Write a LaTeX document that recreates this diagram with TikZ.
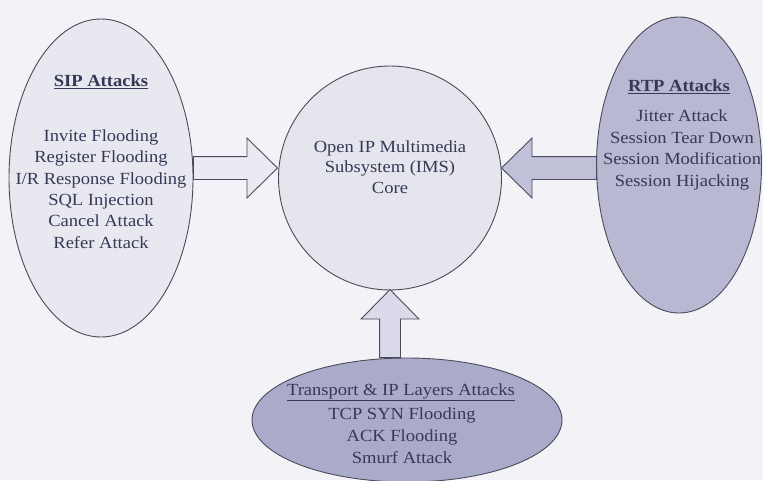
\documentclass[tikz,border=0pt]{standalone}
\usepackage{fontspec}
\setmainfont{Liberation Serif}[FakeStretch=1.09]
\usetikzlibrary{shapes.geometric,shapes.arrows}

\definecolor{paper}{HTML}{F3F3F7}
\definecolor{edge}{HTML}{4A4A5A}
\definecolor{ink}{HTML}{383856}
\definecolor{palefill}{HTML}{E8E8F0}
\definecolor{corefill}{HTML}{E5E5EE}
\definecolor{rtpfill}{HTML}{B8B8D2}
\definecolor{netfill}{HTML}{AAAACB}
\definecolor{arrowpale}{HTML}{EAEAF3}
\definecolor{arrowmid}{HTML}{C0C0D8}
\definecolor{arrowup}{HTML}{DADAEA}

\tikzset{
  group/.style={ellipse, draw=edge, line width=0.9pt, inner sep=0pt},
  label/.style={text=ink, align=center, inner sep=0pt,
                font=\fontsize{17}{21.4}\selectfont},
  heading/.style={label},
  blockarrow/.style={single arrow, draw=edge, line width=0.9pt,
                     single arrow tip angle=89, inner sep=0pt}
}

\begin{document}
\begin{tikzpicture}[x=1pt,y=-1pt]
  \useasboundingbox (0,0) rectangle (763,480);
  \fill[paper] (0,0) rectangle (763,480);

  % attack groups and the IMS core
  \node[group, fill=palefill, minimum width=184pt, minimum height=318pt] (sip) at (101,178) {};
  \node[group, fill=corefill, minimum width=223pt, minimum height=224pt] (core) at (390,178) {};
  \node[group, fill=rtpfill, minimum width=165pt, minimum height=296pt] (rtp) at (679,165) {};
  \node[group, fill=netfill, minimum width=310pt, minimum height=124pt] (net) at (407,420) {};

  % block arrows into the core
  \node[blockarrow, fill=arrowpale, minimum height=84pt, minimum width=59pt,
        single arrow head extend=18.5pt, text height=22pt, anchor=tail]
        (sipin) at (193,168) {};
  \node[blockarrow, fill=arrowmid, minimum height=95pt, minimum width=59pt,
        single arrow head extend=18.5pt, text height=22pt,
        shape border rotate=180, anchor=tail]
        (rtpin) at (597,168) {};
  \node[blockarrow, fill=arrowup, minimum height=68pt, minimum width=57pt,
        single arrow head extend=18.5pt, text width=20pt, text height=0pt,
        text depth=0pt, shape border rotate=90, anchor=tail]
        (netin) at (390,358) {};

  % SIP attacks
  \node[heading] (siphead) at (101,82) {\underline{\textbf{SIP Attacks}}};
  \node[label] (siplist) at (101,189) {Invite Flooding\\Register Flooding\\I/R Response Flooding\\SQL Injection\\Cancel Attack\\Refer Attack};

  % IMS core
  \node[label, font=\fontsize{17}{20.5}\selectfont] (coretext) at (390,167)
    {Open IP Multimedia\\Subsystem (IMS)\\Core};

  % RTP attacks
  \node[heading] (rtphead) at (679,87) {\underline{\textbf{RTP Attacks}}};
  \node[label] (rtplist) at (682,150) {Jitter Attack\\Session Tear Down\\Session Modification\\Session Hijacking};

  % transport and IP layer attacks
  \node[heading] (nethead) at (401,392) {\underline{Transport \& IP Layers Attacks}};
  \node[label, font=\fontsize{17}{22}\selectfont] (netlist) at (402,436) {TCP SYN Flooding\\ACK Flooding\\Smurf Attack};
\end{tikzpicture}
\end{document}
